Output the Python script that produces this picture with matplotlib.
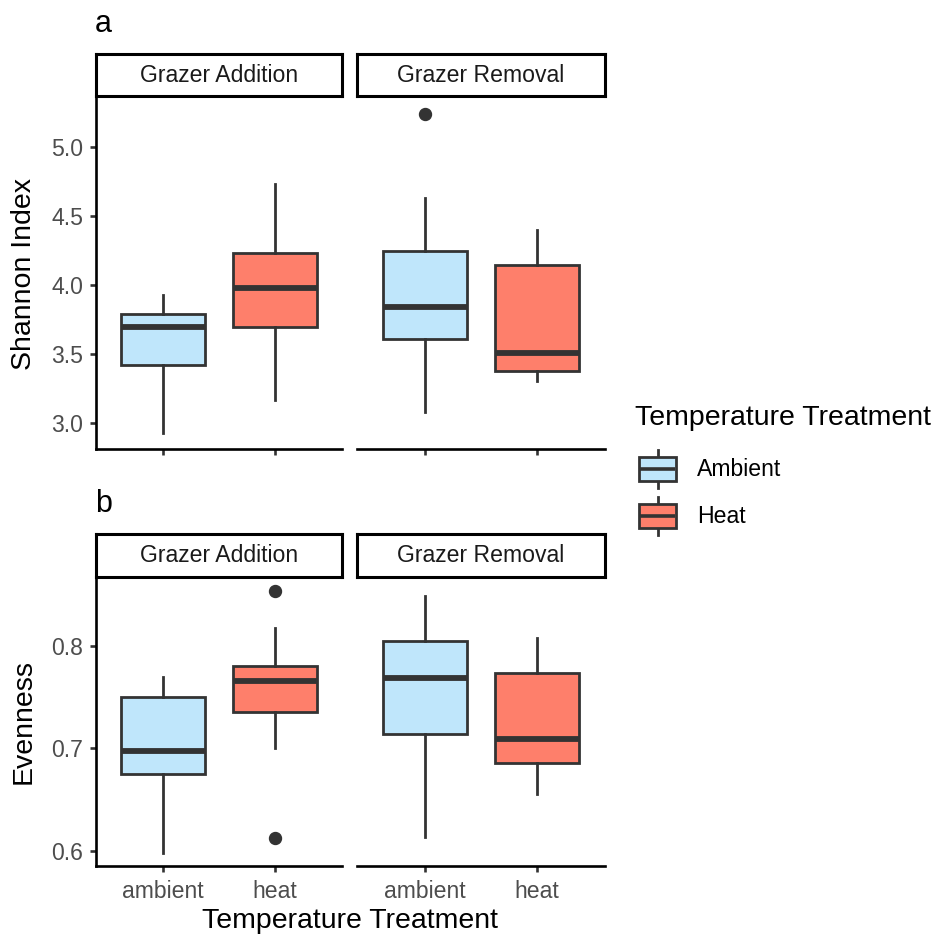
import matplotlib
matplotlib.use("Agg")
import matplotlib.pyplot as plt
from matplotlib.patches import Patch, Rectangle
from matplotlib.lines import Line2D
from matplotlib.legend_handler import HandlerBase

plt.rcParams['font.family'] = ['Liberation Sans', 'DejaVu Sans']

# ---------------- data ----------------
facets = ["Grazer Addition", "Grazer Removal"]
categories = ["ambient", "heat"]
legend_labels = ["Ambient", "Heat"]
colors = ["#BFE6FB", "#FE7F6B"]

# order within each facet: ambient, heat
shannon_whislo = [[2.93, 3.17], [3.08, 3.31]]
shannon_q1 = [[3.42, 3.70], [3.61, 3.38]]
shannon_med = [[3.70, 3.98], [3.84, 3.51]]
shannon_q3 = [[3.79, 4.23], [4.25, 4.15]]
shannon_whishi = [[3.93, 4.73], [4.63, 4.40]]
shannon_fliers = [[[], []], [[5.24], []]]
shannon_ticks = [3.0, 3.5, 4.0, 4.5, 5.0]

even_whislo = [[0.598, 0.700], [0.613, 0.655]]
even_q1 = [[0.675, 0.736], [0.714, 0.686]]
even_med = [[0.697, 0.766], [0.769, 0.709]]
even_q3 = [[0.750, 0.781], [0.805, 0.774]]
even_whishi = [[0.770, 0.818], [0.849, 0.808]]
even_fliers = [[[], [0.612, 0.854]], [[], []]]
even_ticks = [0.6, 0.7, 0.8]

W, H = 940, 938
fig = plt.figure(figsize=(W / 100, H / 100), dpi=100)


def px(x0, y0, x1, y1):
    return [x0 / W, 1 - y1 / H, (x1 - x0) / W, (y1 - y0) / H]


EDGE = "#333333"
LW = 2.0
TICK_FS = 16.6
TITLE_FS = 20.5


def yl(*groups):
    vals = []
    for g in groups:
        for row in g:
            for v in row:
                if isinstance(v, list):
                    vals.extend(v)
                else:
                    vals.append(v)
    lo, hi = min(vals), max(vals)
    r = hi - lo
    return lo - 0.05 * r, hi + 0.05 * r


def draw_row(y_top, y_bot, strip_top, whislo, q1, med, q3, whishi, fliers,
             ticks, ylabel, tag, tag_base, show_xlabels):
    ylim = yl(whislo, whishi, fliers)
    xranges = [(95.7, 341.7), (357.3, 604.5)]
    for f, (x0, x1) in enumerate(xranges):
        ax = fig.add_axes(px(x0, y_top, x1, y_bot))
        stats = []
        for c in range(2):
            stats.append(dict(med=med[f][c], q1=q1[f][c], q3=q3[f][c],
                              whislo=whislo[f][c], whishi=whishi[f][c],
                              fliers=fliers[f][c]))
        bp = ax.bxp(stats, positions=[1, 2], widths=0.75, patch_artist=True,
                    showcaps=False,
                    boxprops=dict(edgecolor=EDGE, linewidth=LW),
                    whiskerprops=dict(color=EDGE, linewidth=LW),
                    medianprops=dict(color=EDGE, linewidth=4.2, solid_capstyle='butt'),
                    flierprops=dict(marker='o', markerfacecolor=EDGE,
                                    markeredgecolor=EDGE, markersize=8.6))
        for patch, col in zip(bp['boxes'], colors):
            patch.set_facecolor(col)
        ax.set_xlim(0.4, 2.6)
        ax.set_ylim(*ylim)
        ax.set_xticks([1, 2])
        for s in ['top', 'right']:
            ax.spines[s].set_visible(False)
        ax.spines['bottom'].set_linewidth(1.9)
        ax.spines['bottom'].set_color('black')
        ax.spines['left'].set_linewidth(1.9)
        ax.spines['left'].set_color('black')
        ax.tick_params(axis='both', direction='out', length=4, width=1.9,
                       color=EDGE, labelsize=TICK_FS, labelcolor='#4D4D4D')
        ax.tick_params(axis='x', pad=6.5)
        ax.tick_params(axis='y', pad=5)
        if show_xlabels:
            ax.set_xticklabels(categories)
        else:
            ax.set_xticklabels([])
        if f == 0:
            ax.set_yticks(ticks)
            ax.set_yticklabels([f"{t:.1f}" for t in ticks])
        else:
            ax.spines['left'].set_visible(False)
            ax.set_yticks([])
        ax.patch.set_alpha(0)
        # strip
        sx = fig.add_axes(px(x0, strip_top, x1, y_top - 1.5))
        sx.set_xticks([])
        sx.set_yticks([])
        for s in sx.spines.values():
            s.set_linewidth(2.2)
            s.set_color('black')
        sx.text(0.5, 0.5, facets[f], ha='center', va='center',
                fontsize=TICK_FS, color='#1A1A1A', transform=sx.transAxes)
    fig.text(24 / W, 1 - ((y_top + y_bot) / 2) / H, ylabel, rotation=90,
             ha='center', va='center', fontsize=TITLE_FS, color='black')
    fig.text(95 / W, 1 - tag_base / H, tag, ha='left', va='baseline',
             fontsize=22, color='black')


draw_row(98, 449, 54.5, shannon_whislo, shannon_q1, shannon_med, shannon_q3,
         shannon_whishi, shannon_fliers, shannon_ticks, "Shannon Index", "a", 32, False)
draw_row(578, 865.7, 534, even_whislo, even_q1, even_med, even_q3,
         even_whishi, even_fliers, even_ticks, "Evenness", "b", 512, True)

fig.text(350 / W, 1 - 921 / H, "Temperature Treatment", ha='center', va='center',
         fontsize=TITLE_FS, color='black')


# ---------------- legend ----------------
class BoxHandler(HandlerBase):
    def create_artists(self, legend, orig_handle, xdescent, ydescent, width,
                       height, fontsize, trans):
        face = orig_handle.get_facecolor()
        x0 = -xdescent
        y0 = -ydescent
        cx = x0 + width / 2
        bh = height * 0.63
        by = y0 + (height - bh) / 2
        wl = Line2D([cx, cx], [y0, by], color=EDGE, lw=LW, transform=trans)
        wh = Line2D([cx, cx], [by + bh, y0 + height], color=EDGE, lw=LW, transform=trans)
        rect = Rectangle((x0, by), width, bh, facecolor=face, edgecolor=EDGE,
                         lw=LW, transform=trans)
        med = Line2D([x0 + 1, x0 + width - 1], [y0 + height / 2] * 2, color=EDGE,
                     lw=2.6, transform=trans, solid_capstyle='butt')
        return [wl, wh, rect, med]


handles = [Patch(facecolor=c) for c in colors]
fig.text(635 / W, 1 - 418 / H, "Temperature Treatment", ha='left', va='center',
         fontsize=TITLE_FS, color='black')
fig.legend(handles, legend_labels, handler_map={Patch: BoxHandler()},
           loc='upper left', bbox_to_anchor=(639 / W, 1 - 450 / H),
           frameon=False, borderpad=0, borderaxespad=0, fontsize=TICK_FS,
           handlelength=37 / 23.05, handleheight=2.16, labelspacing=0.39,
           handletextpad=0.92)

fig.savefig("out.png", dpi=100)
